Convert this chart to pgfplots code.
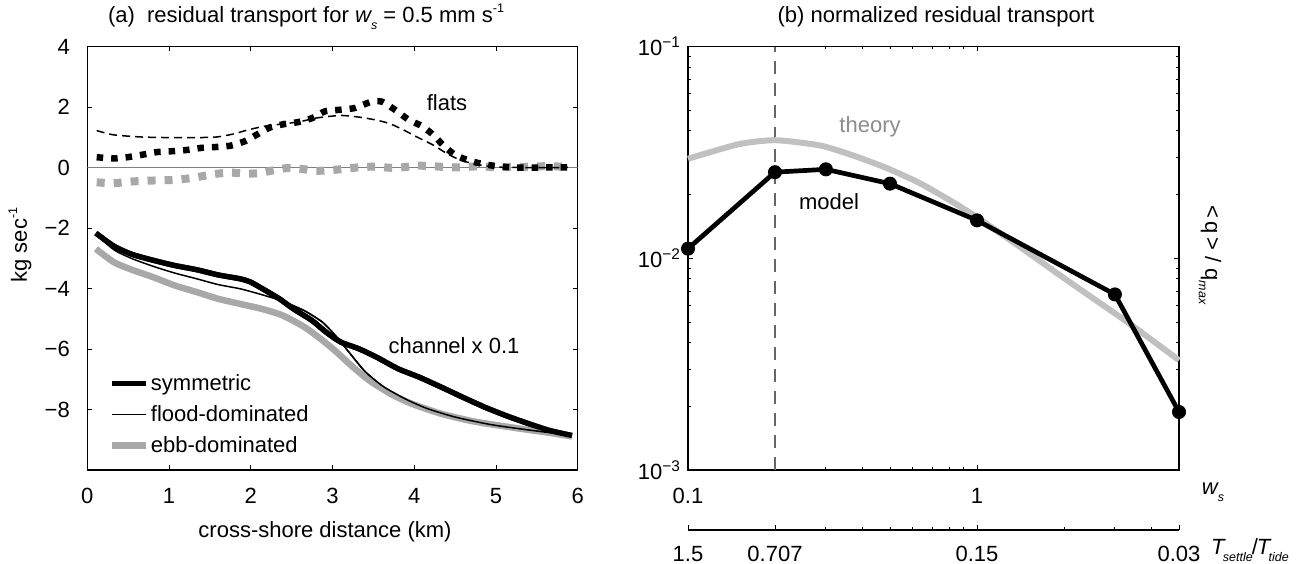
\documentclass[border=0pt]{standalone}
\usepackage{fontspec}
\setmainfont{Liberation Sans}
\usepackage{pgfplots}
\pgfplotsset{compat=1.18}

\definecolor{ebbgray}{HTML}{A8A8A8}
\definecolor{thgray}{HTML}{C0C0C0}
\definecolor{zerogray}{HTML}{7F7F7F}
\definecolor{txtgray}{HTML}{8C8C8C}
\newcommand\fs{\fontsize{22bp}{26bp}\selectfont}
% small sub/superscripts as in the original figure
\newcommand\sbs[1]{\raisebox{-0.3em}{\fontsize{12.5bp}{14bp}\selectfont #1}}
\newcommand\sps[1]{\raisebox{0.45em}{\fontsize{12.5bp}{14bp}\selectfont #1}}

\pgfplotsset{
  matlab/.style={
    scale only axis,
    tick align=inside,
    major tick length=5bp,
    minor tick length=3bp,
    every tick/.style={black, line width=0.8bp},
    axis line style={line width=1.1bp},
    tick label style={font=\fs},
    /pgf/number format/assume math mode=true,
    every axis plot/.append style={line join=round},
  }
}

\begin{document}
\begin{tikzpicture}[font=\fs]
\useasboundingbox (0bp,0bp) rectangle (1302bp,564bp);

% ---------- (a) residual transport ----------
\begin{axis}[matlab,
    at={(87.3bp,94bp)}, anchor=south west,
    width=490.4bp, height=423.5bp,
    xmin=0, xmax=6, ymin=-10, ymax=4,
    xtick={0,1,...,6},
    ytick={-8,-6,...,4},
    yticklabels={−8,−6,−4,−2,0,2,4},
    xticklabel style={yshift=-15bp},
    yticklabel style={xshift=-14bp},
    legend style={draw=none, fill=none, font=\fs,
      at={(axis cs:0.22,-9.62)}, anchor=south west,
      row sep=9.5bp, cells={anchor=west}},
    legend cell align=left,
    legend image code/.code={\draw[#1] (0bp,0bp) -- (34bp,0bp);},
  ]
  % zero line
  \addplot[zerogray, line width=1.3bp, forget plot] coordinates {(0,0)(6,0)};

  % flats (ebb-dominated)
  \addplot[ebbgray, line width=8bp, dash pattern=on 8bp off 9bp, smooth, tension=0.4, forget plot] coordinates {
    (0.115,-0.49)(0.32,-0.52)(0.56,-0.46)(0.81,-0.43)(1.06,-0.41)(1.30,-0.34)
    (1.54,-0.22)(1.75,-0.17)(1.92,-0.20)(2.10,-0.19)(2.26,-0.10)(2.44,-0.02)
    (2.63,-0.05)(2.80,-0.11)(2.97,-0.09)(3.16,-0.04)(3.34,0.01)(3.53,0.03)
    (3.71,-0.01)(3.87,0.01)(4.06,0.06)(4.24,0.04)(4.42,0.01)(4.60,0.01)
    (4.79,0.04)(4.98,0.01)(5.16,0.01)(5.34,0.02)(5.53,0.04)(5.71,0.04)(5.88,0.01)
  };
  % flats (flood-dominated)
  \addplot[black, line width=1.5bp, dash pattern=on 8bp off 5bp, smooth, tension=0.4, forget plot] coordinates {
    (0.115,1.22)(0.32,1.08)(0.65,1.01)(0.97,0.99)(1.38,0.99)(1.59,1.01)
    (1.79,1.11)(1.99,1.26)(2.20,1.38)(2.40,1.44)(2.61,1.52)(2.81,1.64)
    (3.10,1.72)(3.34,1.66)(3.55,1.56)(3.71,1.44)(3.87,1.24)(4.04,1.00)
    (4.24,0.73)(4.40,0.46)(4.57,0.24)(4.77,0.10)(4.97,0.02)(5.25,0)(5.88,0)
  };
  % flats (symmetric)
  \addplot[black, line width=6.5bp, dash pattern=on 6.5bp off 8bp, smooth, tension=0.4, forget plot] coordinates {
    (0.115,0.34)(0.32,0.30)(0.49,0.34)(0.69,0.43)(0.85,0.51)(1.05,0.54)
    (1.22,0.58)(1.40,0.65)(1.59,0.68)(1.75,0.72)(1.93,0.87)(2.09,1.11)
    (2.24,1.33)(2.42,1.44)(2.58,1.50)(2.75,1.63)(2.91,1.86)(3.10,1.91)
    (3.28,1.97)(3.46,2.16)(3.60,2.18)(3.79,1.86)(3.93,1.58)(4.10,1.36)
    (4.24,1.06)(4.37,0.69)(4.51,0.40)(4.67,0.23)(4.83,0.12)(5.02,0.04)
    (5.22,0)(5.55,0)(5.88,0)
  };

  % channel x 0.1
  \addplot[black, line width=5.3bp, smooth, tension=0.4] coordinates {
    (0.105,-2.17)(0.325,-2.60)(0.545,-2.87)(0.81,-3.07)(1.07,-3.24)
    (1.34,-3.38)(1.60,-3.55)(1.87,-3.68)(2.00,-3.79)(2.17,-4.05)(2.35,-4.34)
    (2.52,-4.67)(2.75,-5.06)(2.92,-5.44)(3.10,-5.77)(3.32,-5.99)(3.54,-6.27)
    (3.80,-6.65)(4.06,-6.93)(4.33,-7.26)(4.59,-7.59)(4.86,-7.92)(5.12,-8.20)
    (5.38,-8.45)(5.65,-8.69)(5.93,-8.86)
  };
  \addlegendentry{symmetric}
  \addplot[black, line width=1.5bp, smooth, tension=0.4] coordinates {
    (0.105,-2.20)(0.325,-2.72)(0.545,-3.01)(0.81,-3.27)(1.07,-3.49)(1.34,-3.68)
    (1.60,-3.87)(1.87,-4.01)(2.13,-4.20)(2.39,-4.42)(2.66,-4.74)(2.88,-5.12)
    (3.05,-5.60)(3.23,-6.20)(3.40,-6.75)(3.62,-7.24)(3.89,-7.65)(4.15,-7.96)
    (4.50,-8.25)(4.94,-8.50)(5.38,-8.67)(5.93,-8.86)
  };
  \addlegendentry{flood-dominated}
  \addplot[ebbgray, line width=6.5bp, smooth, tension=0.4] coordinates {
    (0.105,-2.69)(0.325,-3.13)(0.545,-3.38)(0.81,-3.63)(1.07,-3.90)(1.34,-4.12)
    (1.60,-4.34)(1.87,-4.51)(2.13,-4.67)(2.39,-4.89)(2.66,-5.28)(2.88,-5.72)
    (3.05,-6.10)(3.23,-6.55)(3.45,-7.04)(3.71,-7.48)(3.97,-7.81)(4.33,-8.14)
    (4.72,-8.39)(5.16,-8.58)(5.60,-8.75)(5.93,-8.89)
  };
  \addlegendentry{ebb-dominated}
  % symmetric and flood drawn again on top of the grey curve
  \addplot[black, line width=5.3bp, smooth, tension=0.4, forget plot] coordinates {
    (0.105,-2.17)(0.325,-2.60)(0.545,-2.87)(0.81,-3.07)(1.07,-3.24)
    (1.34,-3.38)(1.60,-3.55)(1.87,-3.68)(2.00,-3.79)(2.17,-4.05)(2.35,-4.34)
    (2.52,-4.67)(2.75,-5.06)(2.92,-5.44)(3.10,-5.77)(3.32,-5.99)(3.54,-6.27)
    (3.80,-6.65)(4.06,-6.93)(4.33,-7.26)(4.59,-7.59)(4.86,-7.92)(5.12,-8.20)
    (5.38,-8.45)(5.65,-8.69)(5.93,-8.86)
  };
  \addplot[black, line width=1.5bp, smooth, tension=0.4, forget plot] coordinates {
    (2.39,-4.42)(2.66,-4.74)(2.88,-5.12)(3.05,-5.60)(3.23,-6.20)(3.40,-6.75)
    (3.62,-7.24)(3.89,-7.65)(4.15,-7.96)(4.50,-8.25)(4.94,-8.50)(5.38,-8.67)(5.93,-8.86)
  };
\end{axis}

% ---------- (b) normalized residual transport ----------
\begin{axis}[matlab,
    at={(688bp,94bp)}, anchor=south west,
    width=491bp, height=423.5bp,
    xmode=log, ymode=log,
    xmin=0.1, xmax=5, ymin=0.001, ymax=0.1,
    xtick={0.1,1}, xticklabels={0.1,1},
    ytick={0.001,0.01,0.1},
    yticklabels={10\textsuperscript{−3},10\textsuperscript{−2},10\textsuperscript{−1}},
    xticklabel style={yshift=-15bp},
    yticklabel style={xshift=-4bp},
    clip=false,
  ]
  \addplot[black!60, line width=1.5bp, dash pattern=on 13bp off 9bp] coordinates {(0.2,0.001)(0.2,0.1)};
  \addplot[thgray, line width=6bp, smooth, tension=0.4] coordinates {
    (0.1,0.0295)(0.149,0.0345)(0.2,0.0361)(0.286,0.0341)(0.372,0.0306)
    (0.489,0.0266)(0.635,0.0226)(0.826,0.0184)(1,0.0156)(1.41,0.0113)
    (1.94,0.0083)(2.46,0.00662)(3.38,0.0049)(5,0.0033)
  };
  \addplot[black, line width=4.7bp, mark=*, mark size=6.5bp,
    mark options={line width=1bp}] coordinates {
    (0.1,0.0111)(0.2,0.0255)(0.3,0.0263)(0.5,0.0225)(1,0.0151)(3,0.00675)(5,0.00188)
  };
\end{axis}

% second x axis: T_settle / T_tide
\begin{axis}[matlab,
    at={(688bp,34bp)}, anchor=south west,
    width=491bp, height=10bp,
    xmode=log, xmin=0.1, xmax=5, ymin=0, ymax=1,
    hide y axis, axis x line*=bottom, x axis line style={-},
    xtick={0.1,0.2,1,5}, xticklabels={1.5,0.707,0.15,0.03},
    minor xtick={0.3,0.4,0.5,0.6,0.7,0.8,0.9,2,3,4},
    xticklabel style={yshift=-12.5bp},
  ]
\end{axis}

% titles and labels
\node at (306bp,547bp) {(a)\ \ residual transport for \textit{w}\kern-1bp\sbs{\textit{s}} = 0.5 mm s\sps{-1}};
\node at (936bp,547bp) {(b) normalized residual transport};
\node[rotate=90] at (20bp,319bp) {kg sec\sps{-1}};
\node at (325bp,32bp) {cross-shore distance (km)};
\node at (447bp,461bp) {flats};
\node at (454bp,218bp) {channel x 0.1};
\node[text=txtgray] at (870bp,437bp) {theory};
\node at (829bp,362bp) {model};
\node at (1213bp,72bp) {\textit{w}\kern-1bp\sbs{\textit{s}}};
\node at (1250bp,14bp) {\textit{T}\kern-3bp\sbs{\textit{settle}}\kern-1bp/\kern-1bp\textit{T}\kern-3bp\sbs{\textit{tide}}};
\node[rotate=-90] at (1210bp,309bp) {<\,q\,> / q\kern-0.5bp\sbs{\textit{max}}};
\end{tikzpicture}
\end{document}
